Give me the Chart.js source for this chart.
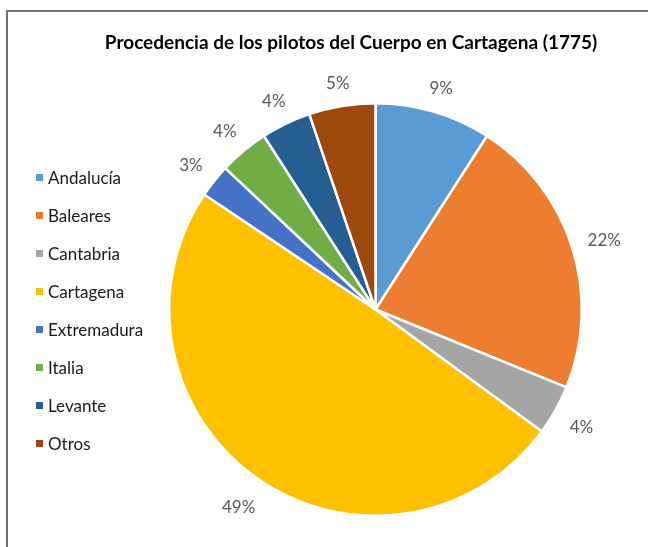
<!DOCTYPE html>
<html>
<head>
<meta charset="utf-8">
<script src="https://cdn.jsdelivr.net/npm/chart.js@4"></script>
<style>
  html, body { margin: 0; padding: 0; background: #fff; overflow: hidden; }
  .frame {
    position: absolute;
    left: 6px;
    top: 10px;
    width: 686px;
    height: 535px;
    border: 2px solid #737373;
  }
  canvas { display: block; }
</style>
</head>
<body>
<div class="frame">
  <canvas id="pie" width="686" height="535"></canvas>
</div>
<script>
const chartTitle = "Procedencia de los pilotos del Cuerpo en Cartagena (1775)";
const regions = ["Andalucía", "Baleares", "Cantabria", "Cartagena", "Extremadura", "Italia", "Levante", "Otros"];
const shares = [9.1, 22.1, 3.9, 49.4, 2.6, 3.9, 3.9, 5.2];
const colors = ["#5B9BD5", "#ED7D31", "#A5A5A5", "#FFC000", "#4472C4", "#70AD47", "#255E91", "#9E480E"];

const FONT = "Lato, 'Open Sans', sans-serif";

// title centred on the whole frame, not on the padded chart area
const frameTitle = {
  id: "frameTitle",
  afterDraw(chart) {
    const ctx = chart.ctx;
    ctx.save();
    ctx.font = "bold 19px " + FONT;
    ctx.fillStyle = "#000000";
    ctx.textAlign = "center";
    ctx.textBaseline = "middle";
    ctx.fillText(chartTitle, chart.width / 2, 31);
    ctx.restore();
  }
};

// percent labels outside each slice
const outsideLabels = {
  id: "outsideLabels",
  afterDatasetsDraw(chart) {
    const ctx = chart.ctx;
    const meta = chart.getDatasetMeta(0);
    const data = chart.data.datasets[0].data;
    const total = data.reduce((a, b) => a + b, 0);
    ctx.save();
    ctx.font = "17px " + FONT;
    ctx.fillStyle = "#595959";
    ctx.textAlign = "center";
    ctx.textBaseline = "middle";
    meta.data.forEach((arc, i) => {
      const p = arc.getProps(["x", "y", "startAngle", "endAngle", "outerRadius"], true);
      const mid = (p.startAngle + p.endAngle) / 2;
      const txt = Math.round(data[i] / total * 100) + "%";
      const w = ctx.measureText(txt).width;
      const h = 18;
      const dx = Math.cos(mid), dy = Math.sin(mid);
      const dist = p.outerRadius + 15 + (w / 2) * Math.abs(dx) + (h / 2) * Math.abs(dy);
      ctx.fillText(txt, p.x + dx * dist, p.y + dy * dist + 3);
    });
    ctx.restore();
  }
};

// legend column on the left
const sideLegend = {
  id: "sideLegend",
  afterDraw(chart) {
    const ctx = chart.ctx;
    const ds = chart.data.datasets[0];
    ctx.save();
    ctx.font = "17px " + FONT;
    ctx.textBaseline = "middle";
    ctx.textAlign = "left";
    chart.data.labels.forEach((lab, i) => {
      const y = 167 + i * 38;
      ctx.fillStyle = ds.backgroundColor[i];
      ctx.fillRect(28, y - 5, 7, 7);
      ctx.fillStyle = "#1a1a1a";
      ctx.fillText(lab, 40, y);
    });
    ctx.restore();
  }
};

new Chart(document.getElementById("pie"), {
  type: "pie",
  data: {
    labels: regions,
    datasets: [{
      data: shares,
      backgroundColor: colors,
      borderColor: "#ffffff",
      borderWidth: 2.5,
      hoverOffset: 0
    }]
  },
  options: {
    responsive: false,
    animation: false,
    layout: { padding: { left: 150, right: 101, top: 90, bottom: 30 } },
    plugins: {
      legend: { display: false },
      tooltip: { enabled: false },
      title: { display: false }
    }
  },
  plugins: [outsideLabels, sideLegend, frameTitle]
});
</script>
</body>
</html>
